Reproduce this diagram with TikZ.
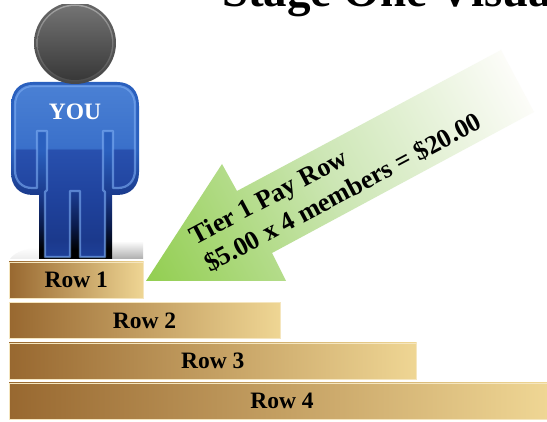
\documentclass[tikz,border=0pt]{standalone}
\usepackage{fontspec}
\setmainfont{Liberation Serif}
\definecolor{outerA}{HTML}{2A60BE}
\definecolor{outerB}{HTML}{1A3A8C}
\definecolor{outerC}{HTML}{0A1C4E}
\definecolor{innerA}{HTML}{4A80D4}
\definecolor{innerA2}{HTML}{3A70CA}
\definecolor{innerB}{HTML}{2850AE}
\definecolor{innerC}{HTML}{1F429C}
\definecolor{innerD}{HTML}{1B398C}
\definecolor{innerE}{HTML}{1E4098}
\definecolor{barL}{HTML}{986830}
\definecolor{barR}{HTML}{EFD694}
\definecolor{arrowTip}{HTML}{92CE50}
\definecolor{arrowMid}{HTML}{CCE6B4}
\definecolor{arrowEnd}{HTML}{FCFCF8}
\definecolor{bodyEdge}{HTML}{80B0F5}
\pgfdeclareverticalshading{bodyouter}{100bp}{
  color(0bp)=(black); color(25bp)=(black); color(27.5bp)=(black);
  color(34.6bp)=(outerC); color(43bp)=(outerB); color(55.8bp)=(outerA); color(75bp)=(outerA); color(100bp)=(outerA)}
\pgfdeclareverticalshading{bodyinner}{100bp}{
  color(0bp)=(innerE); color(25bp)=(innerE); color(30bp)=(innerD); color(41.7bp)=(innerC);
  color(56.3bp)=(innerB); color(56.9bp)=(innerA2); color(75bp)=(innerA); color(100bp)=(innerA)}
\tikzset{
  barbox/.style={anchor=north west,minimum height=36pt,inner sep=0pt,outer sep=0pt,
    shade,left color=barL,right color=barR,draw=barR!60!white,line width=.5pt,
    font=\bfseries\fontsize{23.5}{25}\selectfont,text=black},
  rowlabel/.style={font=\bfseries\fontsize{23.5}{25}\selectfont,text=black,inner sep=0pt}
}
\begin{document}
\begin{tikzpicture}[x=1pt,y=-1pt]
\useasboundingbox (0,0) rectangle (547,422);
\clip (0,0) rectangle (547,422);
\fill[white] (0,0) rectangle (547,422);
% shadow under the figure
\shade[top color=white,bottom color=black!7] (10,259) .. controls (15,251) and (30,248) .. (40,247) -- (40,259) -- cycle;
\shade[top color=white,bottom color=black!32] (110,241) rectangle (143,259);
% body
\path[shading=bodyouter] (39,259) -- (39,195) -- (33,195) .. controls (19,195) and (11,186) .. (11,172)
  -- (11,106) .. controls (11,91) and (19,82) .. (33,82) -- (117,82) .. controls (131,82) and (139,91) .. (139,106)
  -- (139,172) .. controls (139,186) and (131,195) .. (117,195) -- (112,195) -- (112,259) -- cycle;
\path[shading=bodyinner,draw=bodyEdge,draw opacity=.6,line width=2.2pt,line join=round]
  (47,131) -- (47,190) -- (45,192) -- (45,257) -- (70,257) -- (70,191) -- (80,191) -- (80,257) -- (105,257)
  -- (105,192) -- (103,190) -- (103,131) -- (113,131) -- (113,188) -- (118,188) .. controls (128,188) and (135,181) .. (135,170)
  -- (135,105) .. controls (135,94) and (128,86) .. (117,86) -- (33,86) .. controls (22,86) and (15,94) .. (15,105)
  -- (15,170) .. controls (15,181) and (22,188) .. (32,188) -- (37,188) -- (37,131) -- cycle;
% head
\shade[top color=black!60,bottom color=black!72] (75,43) circle[radius=41];
\shade[top color=black!35,bottom color=black!70] (75,43) circle[radius=38.5];
\shade[top color=black!55,bottom color=black!78] (75,43) circle[radius=37];
\fill[white] (0,0) rectangle (200,4);
\node[font=\bfseries\fontsize{23.5}{25}\selectfont,text=white,inner sep=0pt] (you) at (75,112) {YOU};
% title
\node[anchor=base west,inner sep=0pt,font=\bfseries\fontsize{47}{50}\selectfont] (title) at (222,6.5) {Stage One Visual};
% rows
\node[barbox,minimum width=134.5pt] (r1) at (9,262) {Row 1};
\node[barbox,minimum width=271pt] (r2) at (9,302.5) {Row 2};
\node[barbox,minimum width=407.5pt] (r3) at (9,343) {Row 3};
\node[barbox,minimum width=538pt] (r4) at (9,383) {};
\node[rowlabel,xshift=4pt] (r4t) at (r4.center) {Row 4};
% arrow
\begin{scope}
\clip (146,281) -- (222,164) -- (237,191) -- (501,50) -- (534,112) -- (272,253) -- (286,281) -- cycle;
\shade[top color=arrowEnd,bottom color=arrowTip,middle color=arrowMid,shading angle=-62] (121,-30) rectangle (543,392);
\end{scope}
\node[rotate=28,anchor=west,align=left,inner sep=0pt,
  font=\bfseries\fontsize{26.3}{31}\selectfont] (tier) at (199,252) {Tier 1 Pay Row\\\$5.00 x 4 members = \$20.00};
\end{tikzpicture}
\end{document}
